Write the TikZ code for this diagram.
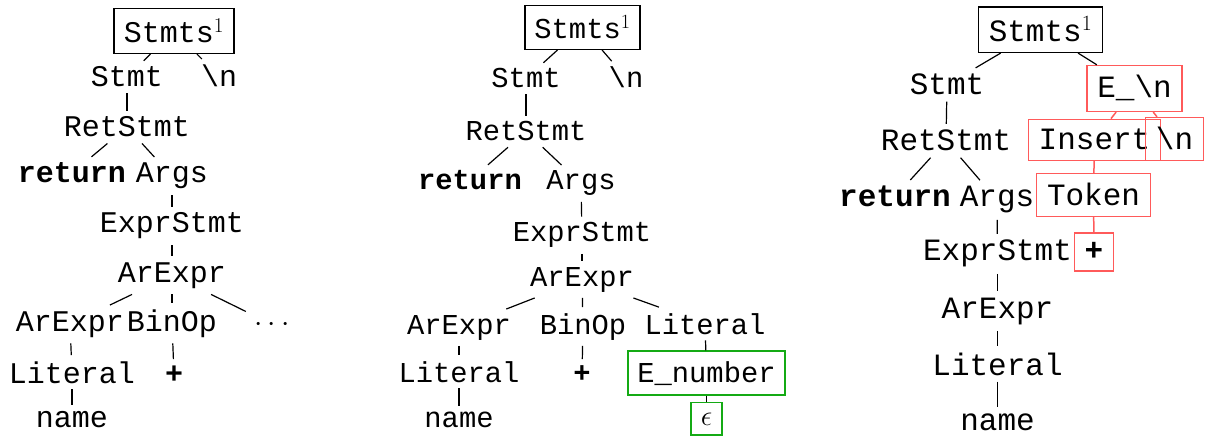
\RequirePackage{fix-cm}
\documentclass[tikz,border=0pt]{standalone}
\usepackage{fontspec}
\setmonofont{Liberation Mono}
\usepackage{tikz}

\definecolor{czerwony}{RGB}{255,90,90}
\definecolor{zielony}{RGB}{20,170,20}

\begin{document}
\begin{tikzpicture}[x=1pt,y=-1pt]
\tikzset{
    %styl tekstu
    slowo/.style={anchor=base},
    %ramki
    ramka/.style={
           anchor=base,
           inner ysep=10pt,
           draw=black,
           line width=1.5pt},
    ramkaz/.style={ramka,draw=zielony},
    ramkac/.style={ramka,draw=czerwony},
    %linie
    galaz/.style={line width=1.2pt},
    galazc/.style={line width=1.5pt,draw=czerwony},
    %rozmiary drzew
    drzewo1/.style={every node/.append style={font=\fontsize{30}{36}\selectfont\ttfamily,inner xsep=10pt,inner ysep=6pt}},
    drzewo2/.style={every node/.append style={font=\fontsize{28.8}{34}\selectfont\ttfamily,inner xsep=9.6pt,inner ysep=5.8pt}},
    drzewo3/.style={every node/.append style={font=\fontsize{31}{37}\selectfont\ttfamily,inner xsep=10.3pt,inner ysep=6.2pt}}
}
\useasboundingbox (0,0) rectangle (1209,438);

%Drzewo 1
\begin{scope}[drzewo1]
\node(stmts1)    [ramka] at (174,43)     {Stmts$^1$};
\node(stmt1)     [slowo] at (127,87)     {Stmt};
\node(nl1)       [slowo] at (219,87)     {\textbackslash n};
\node(ret1)      [slowo] at (127,137)    {RetStmt};
\node(return1)   [slowo] at (72,183)     {\textbf{return}};
\node(args1)     [slowo] at (172,183)    {Args};
\node(expr1)     [slowo] at (172,233)    {ExprStmt};
\node(ar1)       [slowo] at (172,282)    {ArExpr};
\node(arl1)      [slowo] at (70,331)     {ArExpr};
\node(bin1)      [slowo] at (172,331)    {BinOp};
\node(dots1)     [slowo] at (272,331)    {$\cdots$};
\node(lit1)      [slowo] at (72,383)     {Literal};
\node(plus1)     [slowo] at (174,383)    {\textbf{+}};
\node(name1)     [slowo] at (72,427)     {name};
\end{scope}

\draw[galaz] (stmts1) -- (stmt1);
\draw[galaz] (stmts1) -- (nl1);
\draw[galaz] (stmt1) -- (ret1);
\draw[galaz] (ret1) -- (return1);
\draw[galaz] (ret1) -- (args1);
\draw[galaz] (args1) -- (expr1);
\draw[galaz] (expr1) -- (ar1);
\draw[galaz] (ar1) -- (arl1);
\draw[galaz] (ar1) -- (bin1);
\draw[galaz] (ar1) -- (dots1);
\draw[galaz] (arl1) -- (lit1);
\draw[galaz] (bin1) -- (plus1);
\draw[galaz] (lit1) -- (name1);

%Drzewo 2
\begin{scope}[drzewo2]
\node(stmts2)    [ramka] at (582.5,39)   {Stmts$^1$};
\node(stmt2)     [slowo] at (526,88)     {Stmt};
\node(nl2)       [slowo] at (626,88)     {\textbackslash n};
\node(ret2)      [slowo] at (526,141)    {RetStmt};
\node(return2)   [slowo] at (470,190)    {\textbf{return}};
\node(args2)     [slowo] at (581,190)    {Args};
\node(expr2)     [slowo] at (582,242)    {ExprStmt};
\node(ar2)       [slowo] at (582,286)    {ArExpr};
\node(arl2)      [slowo] at (459,334)    {ArExpr};
\node(bin2)      [slowo] at (583,334)    {BinOp};
\node(lit2)      [slowo] at (705,334)    {Literal};
\node(litl2)     [slowo] at (459,382)    {Literal};
\node(plus2)     [slowo] at (582,382)    {\textbf{+}};
\node(enum2)     [ramkaz] at (706.5,382) {E\_number};
\node(name2)     [slowo] at (459,427)    {name};
\node(eps2)      [ramkaz] at (706.5,425) {$\epsilon$};
\end{scope}

\draw[galaz] (stmts2) -- (stmt2);
\draw[galaz] (stmts2) -- (nl2);
\draw[galaz] (stmt2) -- (ret2);
\draw[galaz] (ret2) -- (return2);
\draw[galaz] (ret2) -- (args2);
\draw[galaz] (args2) -- (expr2);
\draw[galaz] (expr2) -- (ar2);
\draw[galaz] (ar2) -- (arl2);
\draw[galaz] (ar2) -- (bin2);
\draw[galaz] (ar2) -- (lit2);
\draw[galaz] (arl2) -- (litl2);
\draw[galaz] (bin2) -- (plus2);
\draw[galaz] (lit2) -- (enum2);
\draw[galaz] (litl2) -- (name2);
\draw[galaz] (enum2) -- (eps2);

%Drzewo 3
\begin{scope}[drzewo3]
\node(stmts3)    [ramka] at (1040.5,42)  {Stmts$^1$};
\node(stmt3)     [slowo] at (947,95)     {Stmt};
\node(enl3)      [ramkac] at (1134.5,98) {E\_\textbackslash n};
\node(ret3)      [slowo] at (946,151)    {RetStmt};
\node(ins3)      [ramkac] at (1094.5,150) {Insert};
\node(nl3)       [ramkac] at (1174.5,150) {\textbackslash n};
\node(return3)   [slowo] at (895,207)    {\textbf{return}};
\node(args3)     [slowo] at (997,207)    {Args};
\node(tok3)      [ramkac] at (1093.5,206) {Token};
\node(expr3)     [slowo] at (997.5,261)  {ExprStmt};
\node(plus3)     [ramkac] at (1094,261)  {\textbf{+}};
\node(ar3)       [slowo] at (997.5,318)  {ArExpr};
\node(lit3)      [slowo] at (997.5,375)  {Literal};
\node(name3)     [slowo] at (997.5,430)  {name};
\end{scope}

\draw[galaz] (stmts3) -- (stmt3);
\draw[galaz] (stmts3) -- (enl3);
\draw[galaz] (stmt3) -- (ret3);
\draw[galaz] (ret3) -- (return3);
\draw[galaz] (ret3) -- (args3);
\draw[galaz] (args3) -- (expr3);
\draw[galaz] (expr3) -- (ar3);
\draw[galaz] (ar3) -- (lit3);
\draw[galaz] (lit3) -- (name3);
\draw[galazc] (enl3) -- (ins3);
\draw[galazc] (enl3) -- (nl3);
\draw[galazc] (ins3) -- (tok3);
\draw[galazc] (tok3) -- (plus3);
\end{tikzpicture}
\end{document}
